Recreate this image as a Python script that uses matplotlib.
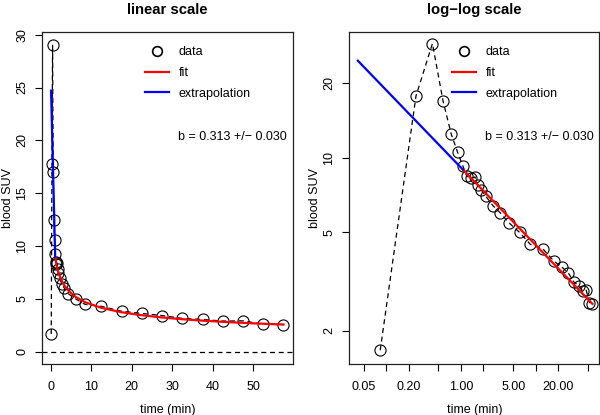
import numpy as np
import matplotlib
matplotlib.use("Agg")
import matplotlib.pyplot as plt
from matplotlib.lines import Line2D

plt.rcParams['font.family'] = ['Liberation Sans', 'DejaVu Sans']

# blood activity curve (time in min, blood SUV)
time_min = [0.083, 0.25, 0.415, 0.575, 0.74, 0.9, 1.06,
            1.19, 1.36, 1.54, 1.67, 1.85, 2.15, 2.7, 3.35, 4.35, 6.1, 8.5,
            12.5, 17.5, 22.5, 27.5, 32.5, 37.5, 42.5, 47.5, 52.5, 57.5]
suv = [1.67, 17.8, 29.0, 17.0, 12.5, 10.55, 9.28,
       8.46, 8.26, 8.38, 7.8, 7.45, 7.0, 6.4, 6.0, 5.48, 5.0, 4.47,
       4.29, 3.83, 3.62, 3.42, 3.15, 3.05, 2.9, 2.92, 2.6, 2.56]

# power-law fit  SUV = A * t^-b  (fitted from t >= 1 min)
fit_a = 9.14
fit_b = 0.313
fit_b_err = 0.030
fit_start_idx = 6
extrap_t0 = 0.0417

t = np.array(time_min)
y = np.array(suv)
t_fit = t[fit_start_idx:]
y_fit = fit_a * t_fit ** (-fit_b)
t_ext = np.array([extrap_t0, t_fit[0]])
y_ext = fit_a * t_ext ** (-fit_b)

fig = plt.figure(figsize=(6.0, 4.15), dpi=100)
ax1 = fig.add_axes([0.07, 0.123, 0.418, 0.8])
ax2 = fig.add_axes([0.582, 0.123, 0.417, 0.8])

note = f"b = {fit_b:.3f} +/\u2212 {fit_b_err:.3f}"


def draw(ax):
    ax.plot(t, y, ls=(0, (4, 3)), color='black', lw=0.9, zorder=2)
    ax.plot(t, y, 'o', mfc='none', mec='black', mew=0.8, ms=8, zorder=3)
    ax.plot(t_fit, y_fit, color='red', lw=1.6, zorder=4)
    ax.plot(t_ext, y_ext, color='blue', lw=1.6, zorder=4)
    handles = [Line2D([], [], ls='none', marker='o', mfc='none', mec='black', mew=1.2, ms=7),
               Line2D([], [], color='red', lw=1.6),
               Line2D([], [], color='blue', lw=1.6)]
    ax.legend(handles, ['data', 'fit', 'extrapolation'], loc='upper left',
              bbox_to_anchor=(0.41, 0.957), frameon=False, fontsize=9,
              handlelength=1.9, handletextpad=0.8, labelspacing=0.7,
              borderpad=0, borderaxespad=0)
    ax.text(0.543, 0.684, note, transform=ax.transAxes, fontsize=9, va='center', ha='left')
    ax.set_xlabel('time (min)', fontsize=9, labelpad=8)
    ax.set_ylabel('blood SUV', fontsize=9, labelpad=1.5)
    ax.tick_params(labelsize=9, length=5, width=0.8, direction='out')
    ax.tick_params(axis='x', pad=7)
    ax.tick_params(axis='y', pad=5)
    for s in ax.spines.values():
        s.set_linewidth(0.9)
        s.set_color('#222222')


# linear panel
draw(ax1)
ax1.axhline(0, color='black', ls=(0, (4, 3)), lw=0.9, zorder=1)
ax1.set_xlim(-2.2, 59.8)
ax1.set_ylim(-1.16, 30.26)
ax1.set_xticks([0, 10, 20, 30, 40, 50])
ax1.set_yticks([0, 5, 10, 15, 20, 25, 30])
ax1.set_yticklabels(['0', '5', '10', '15', '20', '25', '30'], rotation=90, va='center')
ax1.set_title('linear scale', fontsize=10.7, fontweight='bold', pad=13)

# log-log panel
draw(ax2)
ax2.set_xscale('log')
ax2.set_yscale('log')
ax2.set_xlim(0.0319, 71.3)
ax2.set_ylim(1.47, 32.3)
xt = [0.05, 0.1, 0.2, 0.5, 1, 2, 5, 10, 20, 50]
xl = ['0.05', '', '0.20', '', '1.00', '', '5.00', '', '20.00', '']
ax2.set_xticks(xt)
ax2.set_xticklabels(xl)
ax2.xaxis.set_minor_locator(matplotlib.ticker.NullLocator())
ax2.set_yticks([2, 5, 10, 20])
ax2.set_yticklabels(['2', '5', '10', '20'], rotation=90, va='center')
ax2.yaxis.set_minor_locator(matplotlib.ticker.NullLocator())
ax2.set_title('log\u2212log scale', fontsize=10.7, fontweight='bold', pad=13)

fig.savefig('out.png', dpi=100)
